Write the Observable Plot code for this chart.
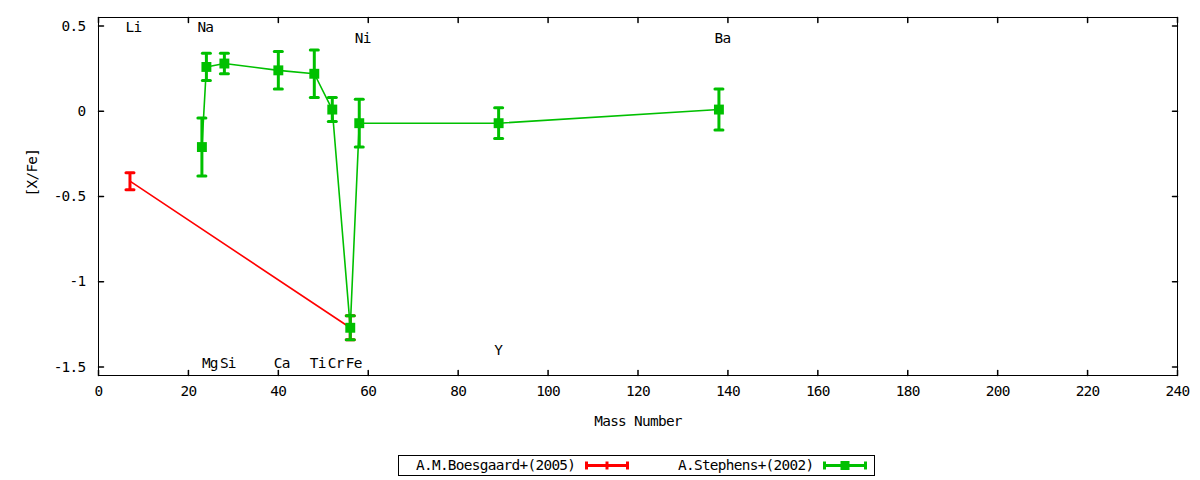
<!DOCTYPE html>
<html><head><meta charset="utf-8">
<script src="https://cdn.jsdelivr.net/npm/d3@7"></script>
<script src="https://cdn.jsdelivr.net/npm/@observablehq/plot@0.6"></script>
<style>
body{margin:0;background:#fff;font-family:"DejaVu Sans Mono",monospace;}
#wrap{position:relative;width:1200px;height:480px;overflow:hidden;}
#legend{position:absolute;left:398px;top:455px;width:477px;height:21px;box-sizing:border-box;border:1px solid #000;font-size:14.4px;letter-spacing:-0.7px;color:#000;}
#legend span{position:absolute;top:0;line-height:19px;white-space:nowrap;}
</style></head><body><div id="wrap"><div id="chart"></div><div id="legend"></div></div>
<script>
const xTicks = [0,20,40,60,80,100,120,140,160,180,200,220,240];
const yTicks = [0.5,0,-0.5,-1,-1.5];

const boesName = "A.M.Boesgaard+(2005)";
const boesMass = [7,56];
const boesVal  = [-0.41,-1.27];
const boesErr  = [0.05,0.07];

const stepName = "A.Stephens+(2002)";
const stepMass = [23,24,28,40,48,52,56,58,89,138];
const stepVal  = [-0.21,0.26,0.28,0.24,0.22,0.01,-1.27,-0.07,-0.07,0.01];
const stepErr  = [0.17,0.08,0.06,0.11,0.14,0.07,0.07,0.14,0.09,0.12];

const labelText = ["Li","Na","Mg","Si","Ca","Ti","Cr","Fe","Ni","Y","Ba"];
const labelMass = [7,23,24,28,40,48,52,56,58,89,138];
const labelY    = [0.49,0.49,-1.48,-1.48,-1.48,-1.48,-1.48,-1.48,0.43,-1.40,0.43];

const RED = "#ff0000", GREEN = "#00c000";

const boes = boesMass.map((m,i)=>({m, v:boesVal[i], e:boesErr[i]}));
const step = stepMass.map((m,i)=>({m, v:stepVal[i], e:stepErr[i]}));
const labels = labelText.map((t,i)=>({t, m:labelMass[i], y:labelY[i]}));

const lineShape = {draw(ctx,l){ctx.moveTo(0,0);ctx.lineTo(0,-l);}};
const capShape = {draw(ctx,l){ctx.moveTo(-l/2,0);ctx.lineTo(l/2,0);}};

function series(data, color, sym, r){
  return [
    Plot.line(data,{x:"m",y:"v",stroke:color,strokeWidth:1.6}),
    Plot.ruleX(data,{x:"m",y1:d=>d.v-d.e,y2:d=>d.v+d.e,stroke:color,strokeWidth:3}),
    Plot.vector(data,{x:"m",y:d=>d.v-d.e,length:8,anchor:"start",shape:capShape,stroke:color,strokeWidth:3}),
    Plot.vector(data,{x:"m",y:d=>d.v+d.e,length:8,anchor:"start",shape:capShape,stroke:color,strokeWidth:3}),
    Plot.dot(data,{x:"m",y:"v",symbol:sym,r:r,fill:color,stroke:null})
  ];
}

const tickLen = 5;
const FS = 14.4;
const chart = Plot.plot({
  width:1200, height:450,
  marginLeft:98, marginRight:23, marginTop:17, marginBottom:75,
  style:{fontFamily:"'DejaVu Sans Mono', monospace", fontSize:FS+"px", letterSpacing:"-0.7px", color:"#000", background:"#fff"},
  x:{domain:[0,240]},
  y:{domain:[-1.55,0.55]},
  marks:[
    Plot.axisX(xTicks,{anchor:"bottom",tickSize:0,tickPadding:10,tickFormat:d=>String(d),label:null,fontSize:FS}),
    Plot.axisY(yTicks,{anchor:"left",tickSize:0,tickPadding:13,tickFormat:d=>String(d),label:null,fontSize:FS}),
    Plot.vector(xTicks,{x:d=>d,frameAnchor:"bottom",length:tickLen,anchor:"start",shape:lineShape,stroke:"#000",rotate:0}),
    Plot.vector(xTicks,{x:d=>d,frameAnchor:"top",length:tickLen,anchor:"start",shape:lineShape,stroke:"#000",rotate:180}),
    Plot.vector(yTicks,{y:d=>d,frameAnchor:"left",length:tickLen,anchor:"start",shape:lineShape,stroke:"#000",rotate:90}),
    Plot.vector(yTicks,{y:d=>d,frameAnchor:"right",length:tickLen,anchor:"start",shape:lineShape,stroke:"#000",rotate:-90}),
    Plot.frame({stroke:"#000"}),
    ...series(boes, RED, "plus", 3.4),
    ...series(step, GREEN, "square", 5.6),
    Plot.text(labels,{x:"m",y:"y",text:"t",textAnchor:"start",dx:-4.5,fontSize:FS,fill:"#000"}),
    Plot.text(["[X/Fe]"],{text:d=>d,frameAnchor:"left",dx:-66,rotate:-90,fontSize:FS,fill:"#000"}),
    Plot.text(["Mass Number"],{text:d=>d,frameAnchor:"bottom",dy:50,fontSize:FS,fill:"#000"})
  ]
});
document.getElementById("chart").appendChild(chart);

// legend
function sample(color, withSquare){
  const w=44,h=19,c=9.5;
  let s = `<svg width="${w}" height="${h}" viewBox="0 0 ${w} ${h}">`+
    `<line x1="1.5" x2="${w-1.5}" y1="${c}" y2="${c}" stroke="${color}" stroke-width="3"/>`+
    `<line x1="1.5" x2="1.5" y1="${c-4}" y2="${c+4}" stroke="${color}" stroke-width="3"/>`+
    `<line x1="${w-1.5}" x2="${w-1.5}" y1="${c-4}" y2="${c+4}" stroke="${color}" stroke-width="3"/>`;
  if(withSquare) s += `<rect x="${w/2-4.5}" y="${c-4.5}" width="9" height="9" fill="${color}"/>`;
  else s += `<line x1="${w/2}" x2="${w/2}" y1="${c-4}" y2="${c+4}" stroke="${color}" stroke-width="3"/>`;
  return s+`</svg>`;
}
const lg = document.getElementById("legend");
lg.innerHTML =
  `<span style="left:17px">${boesName}</span>`+
  `<div style="position:absolute;left:186px;top:0">${sample(RED,false)}</div>`+
  `<span style="left:279px">${stepName}</span>`+
  `<div style="position:absolute;left:424px;top:0">${sample(GREEN,true)}</div>`;
</script>
</body></html>
